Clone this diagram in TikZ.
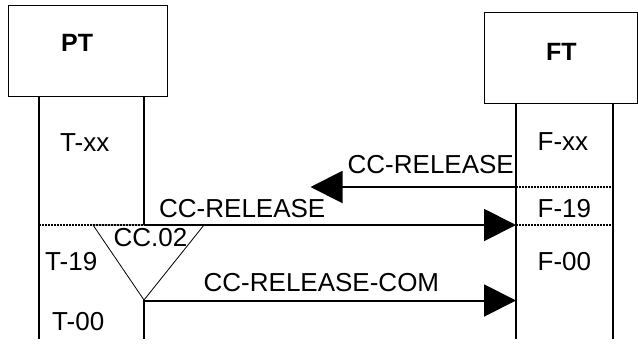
\documentclass[tikz,border=0pt]{standalone}
\usepackage{fontspec}
\setmainfont{Liberation Sans}
\usetikzlibrary{arrows.meta}

\begin{document}
\begin{tikzpicture}[x=1pt,y=-1pt,
  every node/.style={inner sep=0pt,anchor=base west,font=\fontsize{26}{30}\selectfont},
  entity/.style={draw,line width=1.2pt,anchor=north west,minimum height=91pt},
  title/.style={font=\fontsize{25}{30}\selectfont\bfseries},
  life/.style={line width=2pt},
  phase/.style={line width=1.3pt,dash pattern=on 2pt off 1pt},
  msg/.style={line width=2pt,-{Triangle[length=32pt,width=32pt]}}]
  \useasboundingbox (0,0) rectangle (638,349);

  % entities
  \node[entity,minimum width=159.5pt] (ptbox) at (7.5,5) {};
  \node[entity,minimum width=153pt]   (ftbox) at (484,12) {};
  \node[title] (pt) at (61,51.7) {PT};
  \node[title] (ft) at (546,60.7) {FT};

  % lifelines
  \draw[life] (39,96) -- (39,339);
  \draw[life] (144,96) -- (144,225);
  \draw[life] (144,300) -- (144,339);
  \draw[life] (516,103) -- (516,339);
  \draw[life] (613,103) -- (613,339);

  % phases
  \draw[phase] (39,225) -- (144,225);
  \draw[phase] (516,187) -- (613,187);
  \draw[phase] (516,225) -- (613,225);
  \node (txx) at (60,151.7) {T-xx};
  \node (t19) at (45,270.7) {T-19};
  \node (t00) at (52,330) {T-00};
  \node (fxx) at (537.5,150.7) {F-xx};
  \node (f19) at (537.5,217) {F-19};
  \node (f00) at (537.5,270) {F-00};

  % timer
  \draw[line width=0.8pt] (93,225) -- (144,300) -- (204,225) -- cycle;
  \node (cc02) at (113.5,246.7) {CC.02};

  % messages
  \coordinate (ftrel) at (516,187);
  \coordinate (ptrel) at (310.5,187);
  \coordinate (ptsend) at (144,225);
  \coordinate (ftrecv) at (516,225);
  \coordinate (ptcom) at (144,300.5);
  \coordinate (ftcom) at (516,300.5);
  \draw[msg] (ftrel) -- (ptrel);
  \draw[msg] (ptsend) -- (ftrecv);
  \draw[msg] (ptcom) -- (ftcom);
  \node (rel1) at (347.5,173) {CC-RELEASE};
  \node (rel2) at (159,217.3) {CC-RELEASE};
  \node (com) at (203.5,291.7) {CC-RELEASE-COM};
\end{tikzpicture}
\end{document}
